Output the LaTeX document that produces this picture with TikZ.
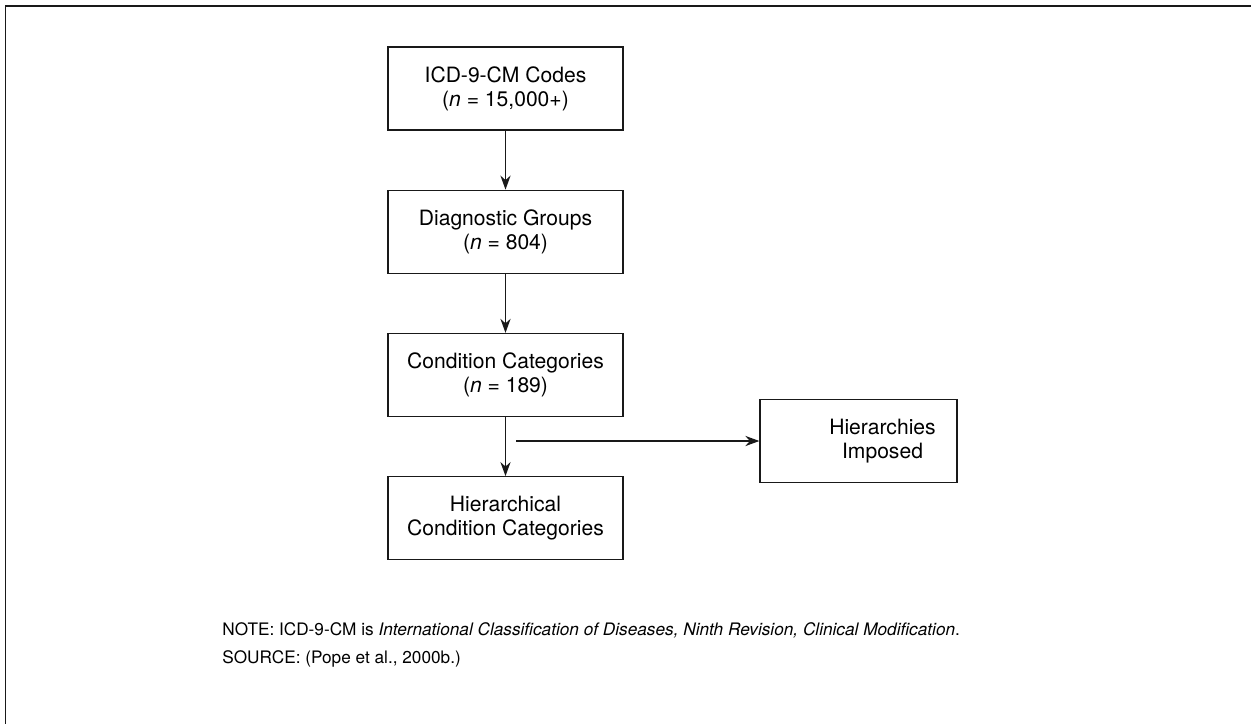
\documentclass[tikz,border=0pt]{standalone}
\usepackage{fontspec}
\setmainfont{TeX Gyre Heros}
\usetikzlibrary{arrows.meta, positioning}
\definecolor{linegray}{RGB}{25, 25, 25}

\begin{document}
\begin{tikzpicture}[
    node distance=1.18cm and 1.5cm,
    font=\fontsize{12}{13.7}\selectfont,
    stepbox/.style={
        draw=linegray,
        line width=0.7pt,
        rectangle,
        align=center,
        minimum width=4.7cm,
        minimum height=1.66cm,
        inner sep=2pt
    },
    notetext/.style={
        font=\fontsize{9.8}{11}\selectfont,
        anchor=base west,
        inner sep=0pt
    },
    arrow/.style={-{Stealth[length=8pt, width=5.8pt, inset=2.6pt]}, line width=0.7pt, color=linegray}
]
    \useasboundingbox (0,0) rectangle (25.02,-14.48);

    % Frame
    \draw[line width=1pt, color=linegray] (25.02,-0.12) -- (0.11,-0.12) -- (0.11,-14.48);

    % Nodes
    \node[stepbox] (codes) at (10.11,-1.77) {ICD-9-CM Codes\\({\itshape n} = 15,000+)};
    \node[stepbox, below=of codes] (groups) {Diagnostic Groups\\({\itshape n} = 804)};
    \node[stepbox, below=of groups] (cats) {Condition Categories\\({\itshape n} = 189)};
    \node[stepbox, below=of cats] (hcc) {Hierarchical\\Condition Categories};
    \node[stepbox, minimum width=3.94cm] (imposed) at (17.17,-8.82)
        {\hspace*{0.96cm}Hierarchies\\\hspace*{0.96cm}Imposed};
    \coordinate[left=4.86cm of imposed.west] (branch);

    % Edges
    \draw[arrow] (codes) -- (groups);
    \draw[arrow] (groups) -- (cats);
    \draw[arrow] (cats) -- (hcc);
    \draw[arrow] (branch) -- (imposed);

    % Notes
    \node[notetext] (note) at (4.44,-12.7)
        {NOTE: ICD-9-CM is \textit{International Classification of Diseases, Ninth Revision, Clinical Modification}.};
    \node[notetext] (source) at (4.44,-13.26) {SOURCE: (Pope et al., 2000b.)};

\end{tikzpicture}
\end{document}
